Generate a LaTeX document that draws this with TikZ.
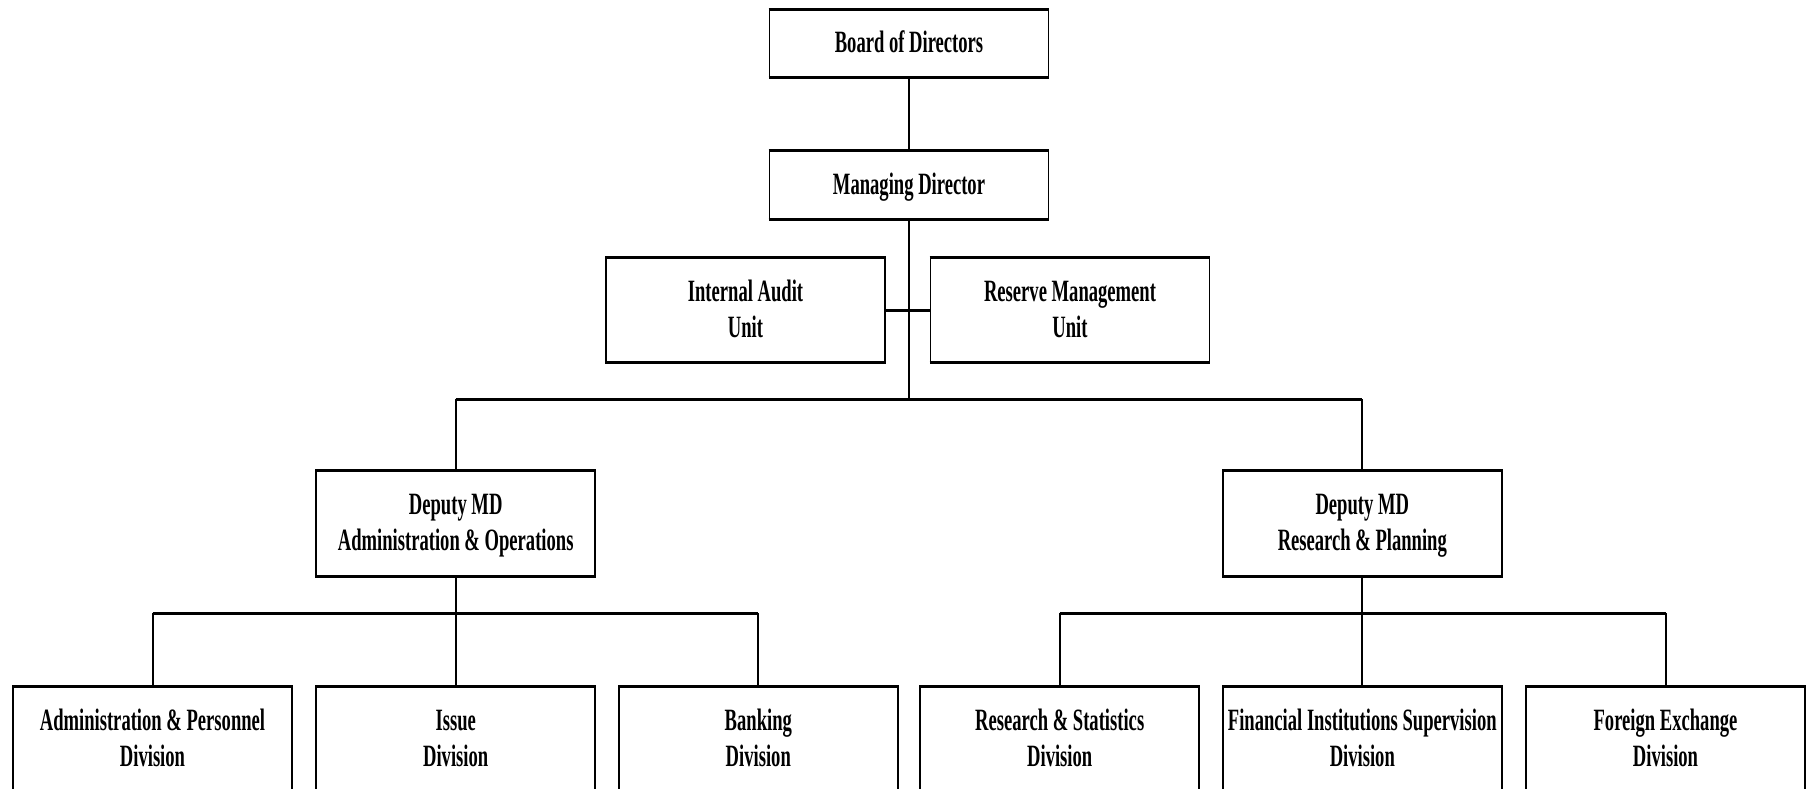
\documentclass[tikz,border=0pt]{standalone}
\usepackage{fontspec}
\usepackage{graphicx}
\setmainfont{Liberation Serif}
\newcommand{\lbl}[1]{\scalebox{0.6}[1]{\begin{tabular}{@{}c@{}}\rule{0pt}{29.5pt}#1\end{tabular}}}
\begin{document}
\begin{tikzpicture}[x=1pt,y=-1pt,
  box/.style={draw, line width=1.6pt, minimum width=279pt,
    inner sep=0pt, font=\bfseries\fontsize{31}{36}\selectfont},
  tallbox/.style={box, minimum height=104pt},
  shortbox/.style={box, minimum height=67pt},
  conn/.style={line width=2pt},
  bus/.style={line width=3pt},
  edge/.style={line width=3pt}]
\useasboundingbox (0,0) rectangle (1807,788);
\fill[white] (0,0) rectangle (1807,788);

\node[shortbox] (board) at (909,43.5) {\lbl{Board of Directors}};
\node[shortbox] (md) at (909,185) {\lbl{Managing Director}};
\node[tallbox] (audit) at (745.5,310) {\lbl{Internal Audit\\Unit}};
\node[tallbox] (reserve) at (1070,310) {\lbl{Reserve Management\\Unit}};
\node[tallbox] (dl) at (455.7,523.5) {\lbl{Deputy MD\\Administration \& Operations}};
\node[tallbox] (dr) at (1362.3,523.5) {\lbl{Deputy MD\\Research \& Planning}};
\node[tallbox] (ap) at (152.5,739.5) {\lbl{Administration \& Personnel\\Division}};
\node[tallbox] (is) at (455.7,739.5) {\lbl{Issue\\Division}};
\node[tallbox] (bk) at (758.3,739.5) {\lbl{Banking\\Division}};
\node[tallbox] (rs) at (1059.7,739.5) {\lbl{Research \& Statistics\\Division}};
\node[tallbox] (fi) at (1362.3,739.5) {\lbl{Financial Institutions Supervision\\Division}};
\node[tallbox] (fx) at (1665.5,739.5) {\lbl{Foreign Exchange\\Division}};

\foreach \n in {board,md,audit,reserve,dl,dr,ap,is,bk,rs,fi,fx}
  \draw[edge] (\n.north west) -- (\n.north east) (\n.south west) -- (\n.south east);

\coordinate (j) at (909,399);
\coordinate (jl) at (455.7,613);
\coordinate (jr) at (1362.3,613);

\draw[conn] (board.south) -- (md.north);
\draw[conn] (md.south) -- (j);
\draw[bus] (audit.east) -- (reserve.west);
\draw[bus] (dl.north |- j) -- (dr.north |- j);
\draw[conn] (dl.north |- j) -- (dl.north);
\draw[conn] (dr.north |- j) -- (dr.north);

\draw[conn] (dl.south) -- (jl);
\draw[bus] (ap.north |- jl) -- (bk.north |- jl);
\foreach \n in {ap,is,bk} \draw[conn] (\n.north |- jl) -- (\n.north);

\draw[conn] (dr.south) -- (jr);
\draw[bus] (rs.north |- jr) -- (fx.north |- jr);
\foreach \n in {rs,fi,fx} \draw[conn] (\n.north |- jr) -- (\n.north);
\end{tikzpicture}
\end{document}
